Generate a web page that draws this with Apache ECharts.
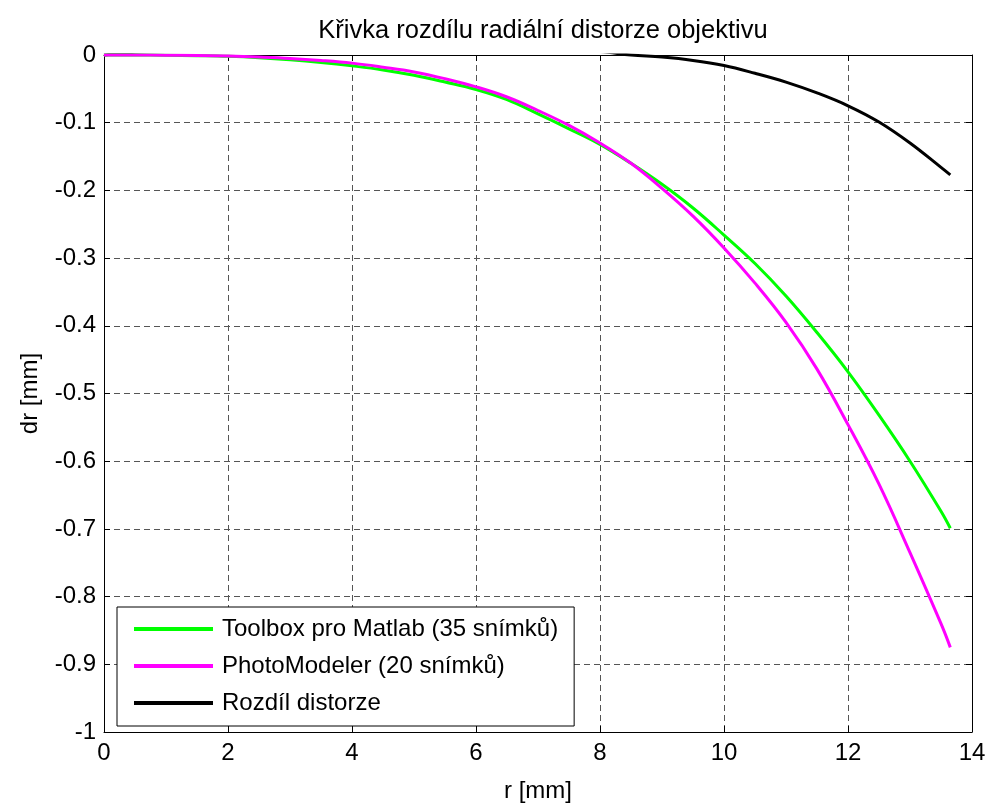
<!DOCTYPE html>
<html>
<head>
<meta charset="utf-8">
<script src="https://cdn.jsdelivr.net/npm/echarts@6/dist/echarts.min.js"></script>
<style>html,body{margin:0;padding:0;background:#fff;}#c{width:991px;height:808px;}</style>
</head>
<body>
<div id="c"></div>
<script>
// r [mm] sample positions
const rValues = [0,0.5,1,1.5,2,2.5,3,3.5,4,4.5,5,5.5,6,6.5,7,7.5,8,8.5,9,9.5,10,10.5,11,11.5,12,12.5,13,13.5,13.65];
// Toolbox pro Matlab (35 snímků)
const toolboxValues = [0,0,-0.0003,-0.001,-0.002,-0.004,-0.007,-0.011,-0.016,-0.022,-0.030,-0.040,-0.051,-0.066,-0.087,-0.109,-0.132,-0.160,-0.191,-0.226,-0.266,-0.308,-0.356,-0.410,-0.468,-0.532,-0.600,-0.674,-0.699];
// PhotoModeler (20 snímků)
const photoValues = [0,0,-0.0002,-0.0006,-0.0015,-0.003,-0.005,-0.008,-0.012,-0.018,-0.025,-0.035,-0.047,-0.062,-0.082,-0.104,-0.130,-0.160,-0.197,-0.238,-0.285,-0.337,-0.395,-0.464,-0.546,-0.634,-0.735,-0.840,-0.875];
// Rozdíl distorze (its positive part lies above the visible range and is clipped)
const diffValues = [0,0.004,0.005,0.005,0.005,0.005,0.005,0.005,0.005,0.005,0.006,0.006,0.006,0.006,0.006,0.006,0.005,0,-0.003,-0.008,-0.0156,-0.027,-0.040,-0.056,-0.075,-0.099,-0.130,-0.166,-0.177];
const seriesNames = ['Toolbox pro Matlab (35 snímků)','PhotoModeler (20 snímků)','Rozdíl distorze'];
const seriesColors = ['#00ff00','#ff00ff','#000000'];
const titleText = 'Křivka rozdílu radiální distorze objektivu';
const xName = 'r [mm]';
const yName = 'dr [mm]';

const FONT = 'Liberation Sans, Arial, Helvetica, sans-serif';
const FS = 24;
const pair = vals => rValues.map((r,i)=>[r, vals[i]]);
const allVals = [toolboxValues, photoValues, diffValues];

const gridLine = {show:true, lineStyle:{color:'#555', width:1, type:[6,4]}};
const chart = echarts.init(document.getElementById('c'), null, {renderer:'canvas'});
chart.setOption({
  animation:false,
  backgroundColor:'#fff',
  textStyle:{fontFamily:FONT},
  title:{text:titleText, left:538, top:13, textAlign:'center',
    textStyle:{fontFamily:FONT, fontSize:25.5, fontWeight:'normal', color:'#000'}},
  grid:{left:104, right:19, top:55, bottom:70, containLabel:false},
  xAxis:[
    {type:'value', min:0, max:14, interval:2, position:'bottom',
     name:xName, nameLocation:'middle', nameGap:47,
     nameTextStyle:{fontFamily:FONT, fontSize:FS, color:'#000'},
     axisLine:{show:true, onZero:false, lineStyle:{color:'#000', width:1}},
     axisTick:{show:true, inside:true, length:6, lineStyle:{color:'#000'}},
     axisLabel:{fontFamily:FONT, fontSize:FS, color:'#000', margin:9},
     splitLine:gridLine},
    {type:'value', min:0, max:14, interval:2, position:'top',
     axisLine:{show:true, onZero:false, lineStyle:{color:'#000', width:1}},
     axisTick:{show:true, inside:true, length:6, lineStyle:{color:'#000'}},
     axisLabel:{show:false}, splitLine:{show:false}}
  ],
  yAxis:[
    {type:'value', min:-1, max:0, interval:0.1, position:'left',
     name:yName, nameLocation:'middle', nameGap:62, nameRotate:90,
     nameTextStyle:{fontFamily:FONT, fontSize:FS, color:'#000'},
     axisLine:{show:true, onZero:false, lineStyle:{color:'#000', width:1}},
     axisTick:{show:true, inside:true, length:6, lineStyle:{color:'#000'}},
     axisLabel:{fontFamily:FONT, fontSize:FS, color:'#000', margin:8,
       formatter:v=>String(Number(v.toFixed(1)))},
     splitLine:gridLine},
    {type:'value', min:-1, max:0, interval:0.1, position:'right',
     axisLine:{show:true, onZero:false, lineStyle:{color:'#000', width:1}},
     axisTick:{show:true, inside:true, length:6, lineStyle:{color:'#000'}},
     axisLabel:{show:false}, splitLine:{show:false}}
  ],
  legend:{orient:'vertical', left:117, top:607,
    backgroundColor:'#fff', borderColor:'#000', borderWidth:1,
    padding:[10,16,11,17], itemWidth:79, itemHeight:4, itemGap:13,
    textStyle:{fontFamily:FONT, fontSize:FS, color:'#000', lineHeight:24, padding:[0,0,0,4]},
    data:seriesNames.map(n=>({name:n, icon:'rect'}))},
  series:seriesNames.map((n,i)=>({
    name:n, type:'line', xAxisIndex:0, yAxisIndex:0,
    data:pair(allVals[i]), showSymbol:false, smooth:0.4, clip:true,
    z: i===2 ? 1 : (i===1 ? 3 : 2),
    color:seriesColors[i],
    lineStyle:{color:seriesColors[i], width:3}
  }))
});
</script>
</body>
</html>
